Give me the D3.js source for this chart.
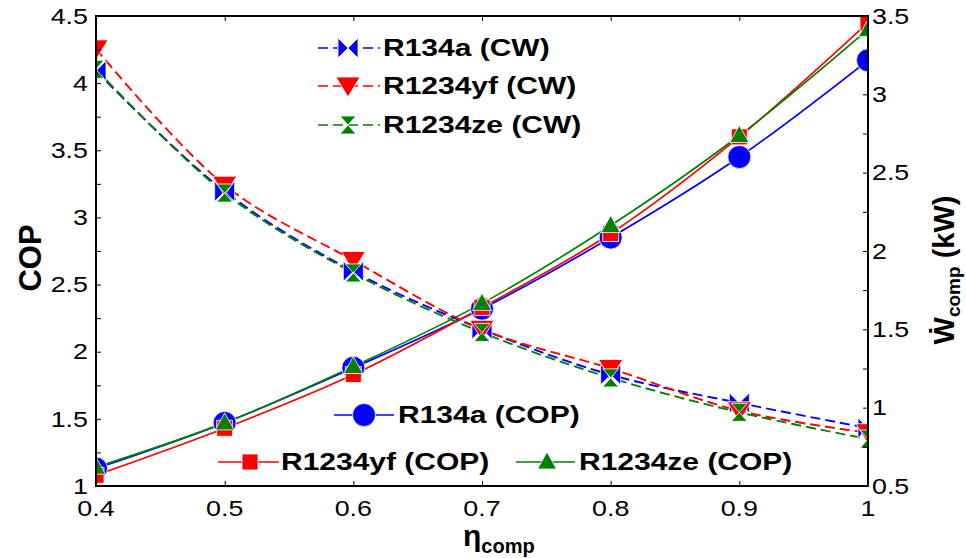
<!DOCTYPE html>
<html><head><meta charset="utf-8">
<script src="https://cdn.jsdelivr.net/npm/d3@7"></script>
<style>body{margin:0;background:#fff} svg{display:block} text{font-family:"Liberation Sans",Arial,Helvetica,sans-serif;fill:#000}</style>
</head><body>
<svg id="c" width="966" height="558"></svg>
<script>
// ---- data ----
const eta = [0.4, 0.5, 0.6, 0.7, 0.8, 0.9, 1.0];
const copR134a   = [1.13, 1.47, 1.88, 2.32, 2.85, 3.45, 4.17];
const copR1234yf = [1.08, 1.43, 1.83, 2.33, 2.88, 3.60, 4.45];
const copR1234ze = [1.14, 1.47, 1.89, 2.36, 2.94, 3.61, 4.40];
const cwR134a    = [3.15, 2.38, 1.87, 1.50, 1.21, 1.03, 0.87];
const cwR1234yf  = [3.29, 2.42, 1.94, 1.50, 1.25, 0.98, 0.84];
const cwR1234ze  = [3.16, 2.37, 1.86, 1.48, 1.19, 0.97, 0.80];
const xTicks = [0.4, 0.5, 0.6, 0.7, 0.8, 0.9, 1.0];
const xTickLabels = ["0.4", "0.5", "0.6", "0.7", "0.8", "0.9", "1"];
const yLeftTicks = [1, 1.5, 2, 2.5, 3, 3.5, 4, 4.5];
const yLeftTickLabels = ["1", "1.5", "2", "2.5", "3", "3.5", "4", "4.5"];
const yLeftMinor = [1.25, 1.75, 2.25, 2.75, 3.25, 3.75, 4.25];
const yRightTicks = [0.5, 1, 1.5, 2, 2.5, 3, 3.5];
const yRightTickLabels = ["0.5", "1", "1.5", "2", "2.5", "3", "3.5"];
const yRightMinor = [0.75, 1.25, 1.75, 2.25, 2.75, 3.25];
const cwNames = ["R134a (CW)", "R1234yf (CW)", "R1234ze (CW)"];
const copNames = ["R134a (COP)", "R1234yf (COP)", "R1234ze (COP)"];

// ---- layout ----
const L = 96, R = 868, T = 16, B = 486;
const svg = d3.select("#c");
const x = d3.scaleLinear().domain([0.4, 1]).range([L, R]);
const yL = d3.scaleLinear().domain([1, 4.5]).range([B, T]);
const yR = d3.scaleLinear().domain([0.5, 3.5]).range([B, T]);

const BLUE = "#0000ff", RED = "#ff0000", GREEN = "#008000";

const markers = {
  bowtie: "M-10,-10L0,0L-10,10Z M10,-10L0,0L10,10Z",
  down: "M-12,-9L12,-9L0,11Z",
  hourglass: "M-8,-9L8,-9L0,0Z M-8,9L8,9L0,0Z",
  circle: d3.symbol(d3.symbolCircle, Math.PI * 11.5 * 11.5)(),
  square: "M-8,-8h16v16h-16Z",
  up: "M0,-10L9.5,7L-9.5,7Z"
};

const cwSeries = [
  {name: cwNames[0], vals: cwR134a, color: BLUE, m: "bowtie"},
  {name: cwNames[1], vals: cwR1234yf, color: RED, m: "down"},
  {name: cwNames[2], vals: cwR1234ze, color: GREEN, m: "hourglass"}
];
const copSeries = [
  {name: copNames[0], vals: copR134a, color: BLUE, m: "circle"},
  {name: copNames[1], vals: copR1234yf, color: RED, m: "square"},
  {name: copNames[2], vals: copR1234ze, color: GREEN, m: "up"}
];

svg.append("defs").append("clipPath").attr("id", "clip")
  .append("rect").attr("x", L).attr("y", T).attr("width", R - L).attr("height", B - T);

function stext(parent, px, py, str, o) {
  return parent.append("text")
    .attr("transform", `translate(${px},${py}) scale(${o.sx || 1},1)`)
    .attr("text-anchor", o.anchor || "start")
    .attr("dy", "0.35em")
    .style("font-size", o.size + "px")
    .style("font-weight", o.weight || "normal")
    .text(str);
}

// ---- plot ----
const plot = svg.append("g").attr("clip-path", "url(#clip)");
const line = (ys) => d3.line().x((d, i) => x(eta[i])).y(d => ys(d)).curve(d3.curveCatmullRom.alpha(0.5));

function drawSeries(s, ys, dashed) {
  plot.append("path").datum(s.vals)
    .attr("d", line(ys)).attr("fill", "none")
    .attr("stroke", s.color).attr("stroke-width", dashed ? 1.9 : 1.7)
    .attr("stroke-dasharray", dashed ? "10,5" : null);
}
function drawMarkers(s, ys) {
  plot.selectAll(null).data(s.vals).enter().append("path")
    .attr("d", markers[s.m])
    .attr("transform", (d, i) => `translate(${x(eta[i])},${ys(d)})`)
    .attr("fill", s.color).attr("stroke", "#fff").attr("stroke-width", 0.8);
}
copSeries.forEach(s => drawSeries(s, yL, false));
cwSeries.forEach(s => drawSeries(s, yR, true));
copSeries.forEach(s => drawMarkers(s, yL));
cwSeries.forEach(s => drawMarkers(s, yR));

// ---- axes (ticks inward) ----
const axG = svg.append("g");
axG.append("g").attr("transform", `translate(0,${B})`)
  .call(d3.axisBottom(x).tickValues(xTicks).tickSize(-5).tickFormat(""));
axG.append("g").attr("transform", `translate(0,${T})`)
  .call(d3.axisTop(x).tickValues(xTicks).tickSize(-5).tickFormat(""));
axG.append("g").attr("transform", `translate(${L},0)`)
  .call(d3.axisLeft(yL).tickValues(yLeftTicks.concat(yLeftMinor)).tickSize(-5).tickFormat(""));
axG.append("g").attr("transform", `translate(${R},0)`)
  .call(d3.axisRight(yR).tickValues(yRightTicks.concat(yRightMinor)).tickSize(-5).tickFormat(""));
axG.selectAll(".domain").remove();
axG.selectAll(".tick line").attr("stroke", "#000").attr("stroke-width", 1);

svg.append("rect").attr("x", L).attr("y", T).attr("width", R - L).attr("height", B - T)
  .attr("fill", "none").attr("stroke", "#000").attr("stroke-width", 2);

const tickSize = 22, tickSx = 1.22;
xTicks.forEach((v, i) => stext(svg, x(v), 508, xTickLabels[i], {size: tickSize, sx: tickSx, anchor: "middle"}));
yLeftTicks.forEach((v, i) => stext(svg, 88, yL(v), yLeftTickLabels[i], {size: tickSize, sx: tickSx, anchor: "end"}));
yRightTicks.forEach((v, i) => stext(svg, 872, yR(v), yRightTickLabels[i], {size: tickSize, sx: tickSx, anchor: "start"}));

// ---- axis titles ----
svg.append("text")
  .attr("transform", "translate(30,258) rotate(-90)")
  .attr("text-anchor", "middle").attr("dy", "0.35em")
  .style("font-size", "31px").style("font-weight", "bold").text("COP");

const xt = svg.append("text").attr("x", 463).attr("y", 546)
  .style("font-size", "30px").style("font-weight", "bold");
xt.append("tspan").text("η");
xt.append("tspan").attr("dy", 7).style("font-size", "20px").text("comp");

const rt = svg.append("text")
  .attr("transform", "translate(944,270) rotate(-90)")
  .attr("text-anchor", "middle").attr("dy", "0.35em")
  .style("font-size", "29px").style("font-weight", "bold");
rt.append("tspan").text("Ẇ");
rt.append("tspan").attr("dy", 6).style("font-size", "19px").text("comp");
rt.append("tspan").attr("dy", -6).text(" (kW)");

// ---- legends ----
const legSize = 24, legSx = 1.25;
function legendItem(s, x0, x1, xm, xt0, y, dashed) {
  svg.append("line").attr("x1", x0).attr("x2", x1).attr("y1", y).attr("y2", y)
    .attr("stroke", s.color).attr("stroke-width", 1.7)
    .attr("stroke-dasharray", dashed ? "10,5" : null);
  svg.append("path").attr("d", markers[s.m]).attr("transform", `translate(${xm},${y})`)
    .attr("fill", s.color).attr("stroke", "#fff").attr("stroke-width", 0.8);
  stext(svg, xt0, y, s.name, {size: legSize, sx: legSx, weight: "bold"});
}
const cwRows = [48, 86, 125];
cwSeries.forEach((s, i) => legendItem(s, 318, 380, 348, 383, cwRows[i], true));
legendItem(copSeries[0], 334, 394, 364, 398, 415, false);
legendItem(copSeries[1], 218, 279, 250, 281, 462, false);
legendItem(copSeries[2], 516, 575, 547, 579, 462, false);
</script>
</body></html>
